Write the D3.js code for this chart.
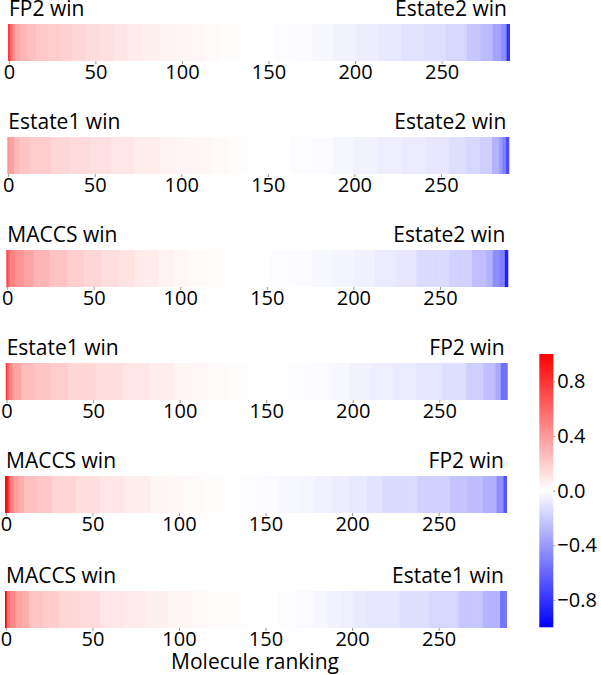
<!DOCTYPE html>
<html>
<head>
<meta charset="utf-8">
<script src="https://cdn.jsdelivr.net/npm/d3@7"></script>
<style>
  body { margin: 0; background: #fff; }
  svg text { font-family: "Open Sans", "Noto Sans", sans-serif; }
</style>
</head>
<body>
<svg></svg>
<script>
var width = 601;
var height = 675;

// labels for each strip (left = positive side, right = negative side)
var leftLabels = ["FP2 win", "Estate1 win", "MACCS win", "Estate1 win", "MACCS win", "MACCS win"];
var rightLabels = ["Estate2 win", "Estate2 win", "Estate2 win", "FP2 win", "FP2 win", "Estate1 win"];

// ranked differences, stored as [value, number of molecules] runs (290 molecules each)
var fp2Estate2 = [[0.78,1],[0.62,1],[0.52,1],[0.44,1],[0.34,3],[0.29,4],[0.25,5],
    [0.22,7],[0.2,7],[0.18,7],[0.16,8],[0.14,8],[0.12,8],[0.1,8],[0.08,9],[0.06,9],[0.05,9],
    [0.04,9],[0.03,9],[0.02,9],[0.01,10],[0.005,11],[0,10],[-0.01,11],[-0.02,11],[-0.03,12],
    [-0.05,13],[-0.07,13],[-0.09,13],[-0.11,13],[-0.13,13],[-0.16,12],
    [-0.22,8],[-0.27,7],[-0.36,5],[-0.45,3],[-0.82,2]];
var estate1Estate2 = [[0.42,1],[0.37,3],[0.28,3],[0.23,6],[0.2,12],[0.16,11],[0.14,12],[0.12,12],
    [0.1,13],[0.07,15],
    [0.05,10],[0.04,10],[0.03,10],[0.02,10],[0.01,12],[0.005,12],[0,12],[-0.01,12],[-0.02,12],
    [-0.035,12],[-0.05,14],[-0.065,14],[-0.08,14],[-0.1,13],[-0.13,10],[-0.16,8],[-0.19,7],
    [-0.3,4],[-0.38,2],[-0.5,2],[-0.7,2]];
var maccsEstate2 = [[0.72,1],[0.62,1],[0.5,3],[0.42,5],[0.36,6],[0.29,9],[0.24,10],[0.19,10],[0.16,10],
    [0.13,10],[0.11,9],[0.08,14],
    [0.05,9],[0.035,8],[0.02,12],[0.01,12],[0.005,12],[0,12],[-0.01,12],[-0.02,12],[-0.03,12],
    [-0.045,12],[-0.06,12],[-0.08,12],[-0.1,12],
    [-0.14,19],[-0.18,13],[-0.25,8],[-0.3,4],[-0.45,4],[-0.5,3],[-0.88,2]];
var estate1Fp2 = [[0.76,1],[0.6,1],[0.48,2],[0.36,5],[0.26,8],[0.23,9],[0.2,10],[0.16,16],[0.13,16],
    [0.1,15],[0.07,14],
    [0.04,10],[0.03,10],[0.02,10],[0.01,12],[0.005,12],[0,12],[-0.01,12],[-0.02,12],[-0.03,12],
    [-0.05,12],[-0.065,13],[-0.08,13],
    [-0.1,15],[-0.13,14],[-0.19,10],[-0.25,7],[-0.34,3],[-0.56,4]];
var maccsFp2 = [[0.98,1],[0.9,1],[0.65,1],[0.5,2],[0.38,3],[0.32,3],[0.25,8],[0.22,8],[0.17,14],
    [0.13,14],[0.1,14],[0.07,15],
    [0.04,10],[0.03,10],[0.02,10],[0.01,11],[0,11],[-0.01,11],[-0.02,11],[-0.03,11],
    [-0.04,10],[-0.055,10],[-0.07,10],[-0.09,10],[-0.11,9],
    [-0.14,20],[-0.18,19],[-0.23,10],[-0.26,9],[-0.31,8],[-0.45,4],[-0.68,2]];
var maccsEstate1 = [[0.98,1],[0.55,2],[0.48,3],[0.36,4],[0.32,4],[0.23,8],[0.2,9],[0.16,12],[0.14,12],
    [0.1,14],[0.08,13],[0.06,12],[0.04,14],
    [0.025,10],[0.015,10],[0.01,10],[0.005,10],[0,10],[-0.01,10],[-0.02,10],
    [-0.035,8],[-0.05,8],[-0.065,8],[-0.08,7],
    [-0.1,19],[-0.13,17],[-0.16,17],[-0.22,14],[-0.3,10],[-0.55,4]];

var xTicks = [0, 50, 100, 150, 200, 250];
var cbarTicks = [-0.8, -0.4, 0, 0.4, 0.8];

var runs = [fp2Estate2, estate1Estate2, maccsEstate2, estate1Fp2, maccsFp2, maccsEstate1];

// layout
var rowTop = [24, 137, 250, 363, 476, 591];
var rowLeft = [8, 7.3, 6.3, 5.7, 5, 5];
var stripW = 502;
var stripH = 37;

// matplotlib "bwr"
var color = d3.scaleLinear()
    .domain([-1, 0, 1])
    .range(["#0000ff", "#ffffff", "#ff0000"]);

const svg = d3.select('svg')
    .attr('width', width)
    .attr('height', height);

function expand(r) {
    var out = [];
    r.forEach(function(d) {
        for (var k = 0; k < d[1]; k++) out.push(d[0]);
    });
    return out;
}

runs.forEach(function(r, i) {
    var values = expand(r);
    var x = d3.scaleLinear()
        .domain([-0.5, values.length - 0.5])
        .range([rowLeft[i], rowLeft[i] + stripW]);
    var g = svg.append("g");

    g.selectAll("rect")
        .data(values)
        .join("rect")
        .attr("x", (d, j) => x(j - 0.5))
        .attr("y", rowTop[i])
        .attr("width", (d, j) => x(j + 0.5) - x(j - 0.5) + (j < values.length - 1 ? 0.6 : 0))
        .attr("height", stripH)
        .attr("fill", d => color(d));

    const axis = g.append("g")
        .attr("transform", `translate(0,${rowTop[i] + stripH})`)
        .call(d3.axisBottom(x).tickValues(xTicks).tickSize(3).tickPadding(0.5));
    axis.select(".domain").remove();
    axis.selectAll(".tick line").attr("stroke", "#999");
    axis.selectAll("text")
        .attr("font-family", '"Open Sans", sans-serif')
        .attr("font-size", 20)
        .attr("fill", "#000");

    g.append("text")
        .attr("x", rowLeft[i] + 1)
        .attr("y", rowTop[i] - 8)
        .attr("font-size", 21)
        .text(leftLabels[i]);
    g.append("text")
        .attr("x", rowLeft[i] + stripW - 3)
        .attr("y", rowTop[i] - 8)
        .attr("font-size", 21)
        .attr("text-anchor", "end")
        .text(rightLabels[i]);
});

svg.append("text")
    .attr("x", 255)
    .attr("y", 669)
    .attr("font-size", 21)
    .attr("text-anchor", "middle")
    .text("Molecule ranking");

// colorbar
var cbX = 539.3, cbW = 14, cbTop = 354, cbBottom = 627.3;
var defs = svg.append("defs");
var grad = defs.append("linearGradient")
    .attr("id", "bwr")
    .attr("x1", 0).attr("y1", 1).attr("x2", 0).attr("y2", 0);
grad.selectAll("stop")
    .data([-1, 0, 1])
    .join("stop")
    .attr("offset", d => (d + 1) / 2)
    .attr("stop-color", d => color(d));

svg.append("rect")
    .attr("x", cbX)
    .attr("y", cbTop)
    .attr("width", cbW)
    .attr("height", cbBottom - cbTop)
    .attr("fill", "url(#bwr)");

var cy = d3.scaleLinear().domain([-1, 1]).range([cbBottom, cbTop]);
const cAxis = svg.append("g")
    .attr("transform", `translate(${cbX + cbW},0)`)
    .call(d3.axisRight(cy).tickValues(cbarTicks).tickFormat(d3.format(".1f")).tickSize(2).tickPadding(2));
cAxis.select(".domain").remove();
cAxis.selectAll(".tick line").attr("stroke", "#999");
cAxis.selectAll("text")
    .attr("font-family", '"Open Sans", sans-serif')
    .attr("font-size", 20)
    .attr("fill", "#000");
</script>
</body>
</html>
